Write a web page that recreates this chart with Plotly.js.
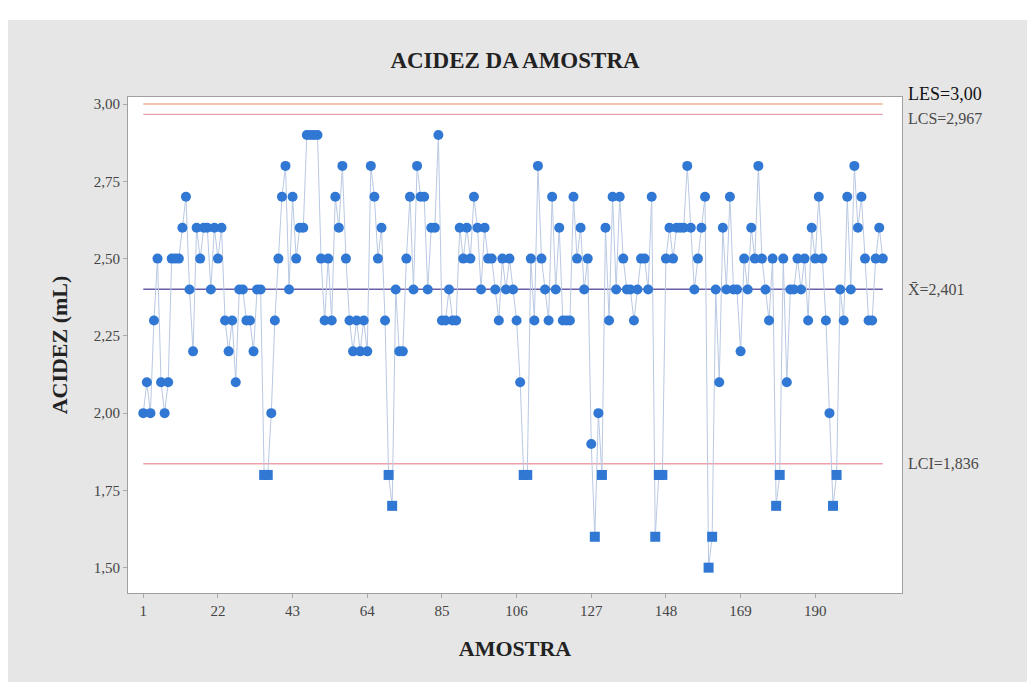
<!DOCTYPE html>
<html>
<head>
<meta charset="utf-8">
<script src="https://cdn.plot.ly/plotly-3.0.1.min.js"></script>
<style>html,body{margin:0;padding:0;background:#fff;}#chart{width:1027px;height:682px;}</style>
</head>
<body>
<div id="chart"></div>
<script>
// Acidity (mL) per sample
const acidez = [
  2.0,2.1,2.0,2.3,2.5,2.1,2.0,2.1,2.5,2.5,
  2.5,2.6,2.7,2.4,2.2,2.6,2.5,2.6,2.6,2.4,
  2.6,2.5,2.6,2.3,2.2,2.3,2.1,2.4,2.4,2.3,
  2.3,2.2,2.4,2.4,1.8,1.8,2.0,2.3,2.5,2.7,
  2.8,2.4,2.7,2.5,2.6,2.6,2.9,2.9,2.9,2.9,
  2.5,2.3,2.5,2.3,2.7,2.6,2.8,2.5,2.3,2.2,
  2.3,2.2,2.3,2.2,2.8,2.7,2.5,2.6,2.3,1.8,
  1.7,2.4,2.2,2.2,2.5,2.7,2.4,2.8,2.7,2.7,
  2.4,2.6,2.6,2.9,2.3,2.3,2.4,2.3,2.3,2.6,
  2.5,2.6,2.5,2.7,2.6,2.4,2.6,2.5,2.5,2.4,
  2.3,2.5,2.4,2.5,2.4,2.3,2.1,1.8,1.8,2.5,
  2.3,2.8,2.5,2.4,2.3,2.7,2.4,2.6,2.3,2.3,
  2.3,2.7,2.5,2.6,2.4,2.5,1.9,1.6,2.0,1.8,
  2.6,2.3,2.7,2.4,2.7,2.5,2.4,2.4,2.3,2.4,
  2.5,2.5,2.4,2.7,1.6,1.8,1.8,2.5,2.6,2.5,
  2.6,2.6,2.6,2.8,2.6,2.4,2.5,2.6,2.7,1.5,
  1.6,2.4,2.1,2.6,2.4,2.7,2.4,2.4,2.2,2.5,
  2.4,2.6,2.5,2.8,2.5,2.4,2.3,2.5,1.7,1.8,
  2.5,2.1,2.4,2.4,2.5,2.4,2.5,2.3,2.6,2.5,
  2.7,2.5,2.3,2.0,1.7,1.8,2.4,2.3,2.7,2.4,
  2.8,2.6,2.7,2.5,2.3,2.3,2.5,2.6,2.5
];
const amostra = acidez.map((_, i) => i + 1);

// Control limits
const LES = 3.00;
const LCS = 2.967;
const MEDIA = 2.401;
const LCI = 1.836;

// Tick labels
const xTicks = [1, 22, 43, 64, 85, 106, 127, 148, 169, 190];
const yTicks = [1.50, 1.75, 2.00, 2.25, 2.50, 2.75, 3.00];

const serif = "Liberation Serif, Times New Roman, serif";
const blue = "#3178d4";
const first = amostra[0], last = amostra[amostra.length - 1];

const symbols = acidez.map(v => (v < LCI || v > LCS) ? "square" : "circle");

function limitLine(val, color, width) {
  return {
    x: [first, last], y: [val, val], mode: "lines", type: "scatter",
    line: {color: color, width: width}, hoverinfo: "skip", showlegend: false
  };
}

const traces = [
  limitLine(LES, "#f3b18e", 1.5),
  limitLine(LCS, "#eaa2aa", 1.3),
  limitLine(MEDIA, "#6b5ea8", 1.5),
  limitLine(LCI, "#eda0a8", 1.5),
  {
    x: amostra, y: acidez, type: "scatter", mode: "lines+markers",
    line: {color: "#b9c9e3", width: 1},
    marker: {color: blue, size: 10, symbol: symbols, line: {width: 0}},
    showlegend: false, hoverinfo: "x+y"
  }
];

const annFont = {family: serif, size: 16, color: "#4a4a4a"};
const layout = {
  width: 1027, height: 682,
  margin: {l: 128, r: 125, t: 97, b: 89},
  paper_bgcolor: "#e6e6e6",
  plot_bgcolor: "#ffffff",
  separators: ",.",
  showlegend: false,
  title: {
    text: "<b>ACIDEZ DA AMOSTRA</b>",
    font: {family: serif, size: 23, color: "#222"},
    x: 0.5, xref: "paper", xanchor: "center",
    y: 1 - 60 / 682, yanchor: "middle"
  },
  xaxis: {
    range: [-3.3, 214.4],
    tickmode: "array", tickvals: xTicks, ticktext: xTicks.map(String),
    ticks: "outside", ticklen: 4, tickcolor: "#aaa",
    showgrid: false, zeroline: false,
    showline: true, linecolor: "#a0a0a0", linewidth: 1, mirror: true,
    tickfont: {family: serif, size: 15, color: "#444"},
    title: {text: "<b>AMOSTRA</b>", font: {family: serif, size: 22, color: "#222"}, standoff: 22}
  },
  yaxis: {
    range: [1.418, 3.023],
    tickmode: "array", tickvals: yTicks, ticktext: yTicks.map(v => v.toFixed(2).replace(".", ",")),
    ticks: "outside", ticklen: 4, tickcolor: "#aaa",
    showgrid: false, zeroline: false,
    showline: true, linecolor: "#a0a0a0", linewidth: 1, mirror: true,
    tickfont: {family: serif, size: 15, color: "#444"},
    title: {text: "<b>ACIDEZ (mL)</b>", font: {family: serif, size: 22, color: "#222"}, standoff: 20}
  },
  shapes: [
    {type: "rect", xref: "paper", yref: "paper", x0: -128/774, x1: 1 + 125/774, y0: 1 + 77/496, y1: 1 + 97/496,
     fillcolor: "#ffffff", line: {width: 0}, layer: "below"},
    {type: "rect", xref: "paper", yref: "paper", x0: -128/774, x1: -120/774, y0: -89/496, y1: 1 + 97/496,
     fillcolor: "#ffffff", line: {width: 0}, layer: "below"}
  ],
  annotations: [
    {xref: "paper", yref: "y", x: 1.005, y: LES, xanchor: "left", yanchor: "middle", yshift: 10,
     text: "LES=" + LES.toFixed(2).replace(".", ","), showarrow: false,
     font: {family: serif, size: 18, color: "#111"}},
    {xref: "paper", yref: "y", x: 1.005, y: LCS, xanchor: "left", yanchor: "middle", yshift: -4,
     text: "LCS=" + LCS.toFixed(3).replace(".", ","), showarrow: false, font: annFont},
    {xref: "paper", yref: "y", x: 1.005, y: MEDIA, xanchor: "left", yanchor: "middle",
     text: "X\u0304=" + MEDIA.toFixed(3).replace(".", ","), showarrow: false, font: annFont},
    {xref: "paper", yref: "y", x: 1.005, y: LCI, xanchor: "left", yanchor: "middle",
     text: "LCI=" + LCI.toFixed(3).replace(".", ","), showarrow: false, font: annFont}
  ]
};

Plotly.newPlot("chart", traces, layout, {displayModeBar: false, staticPlot: true});
</script>
</body>
</html>
